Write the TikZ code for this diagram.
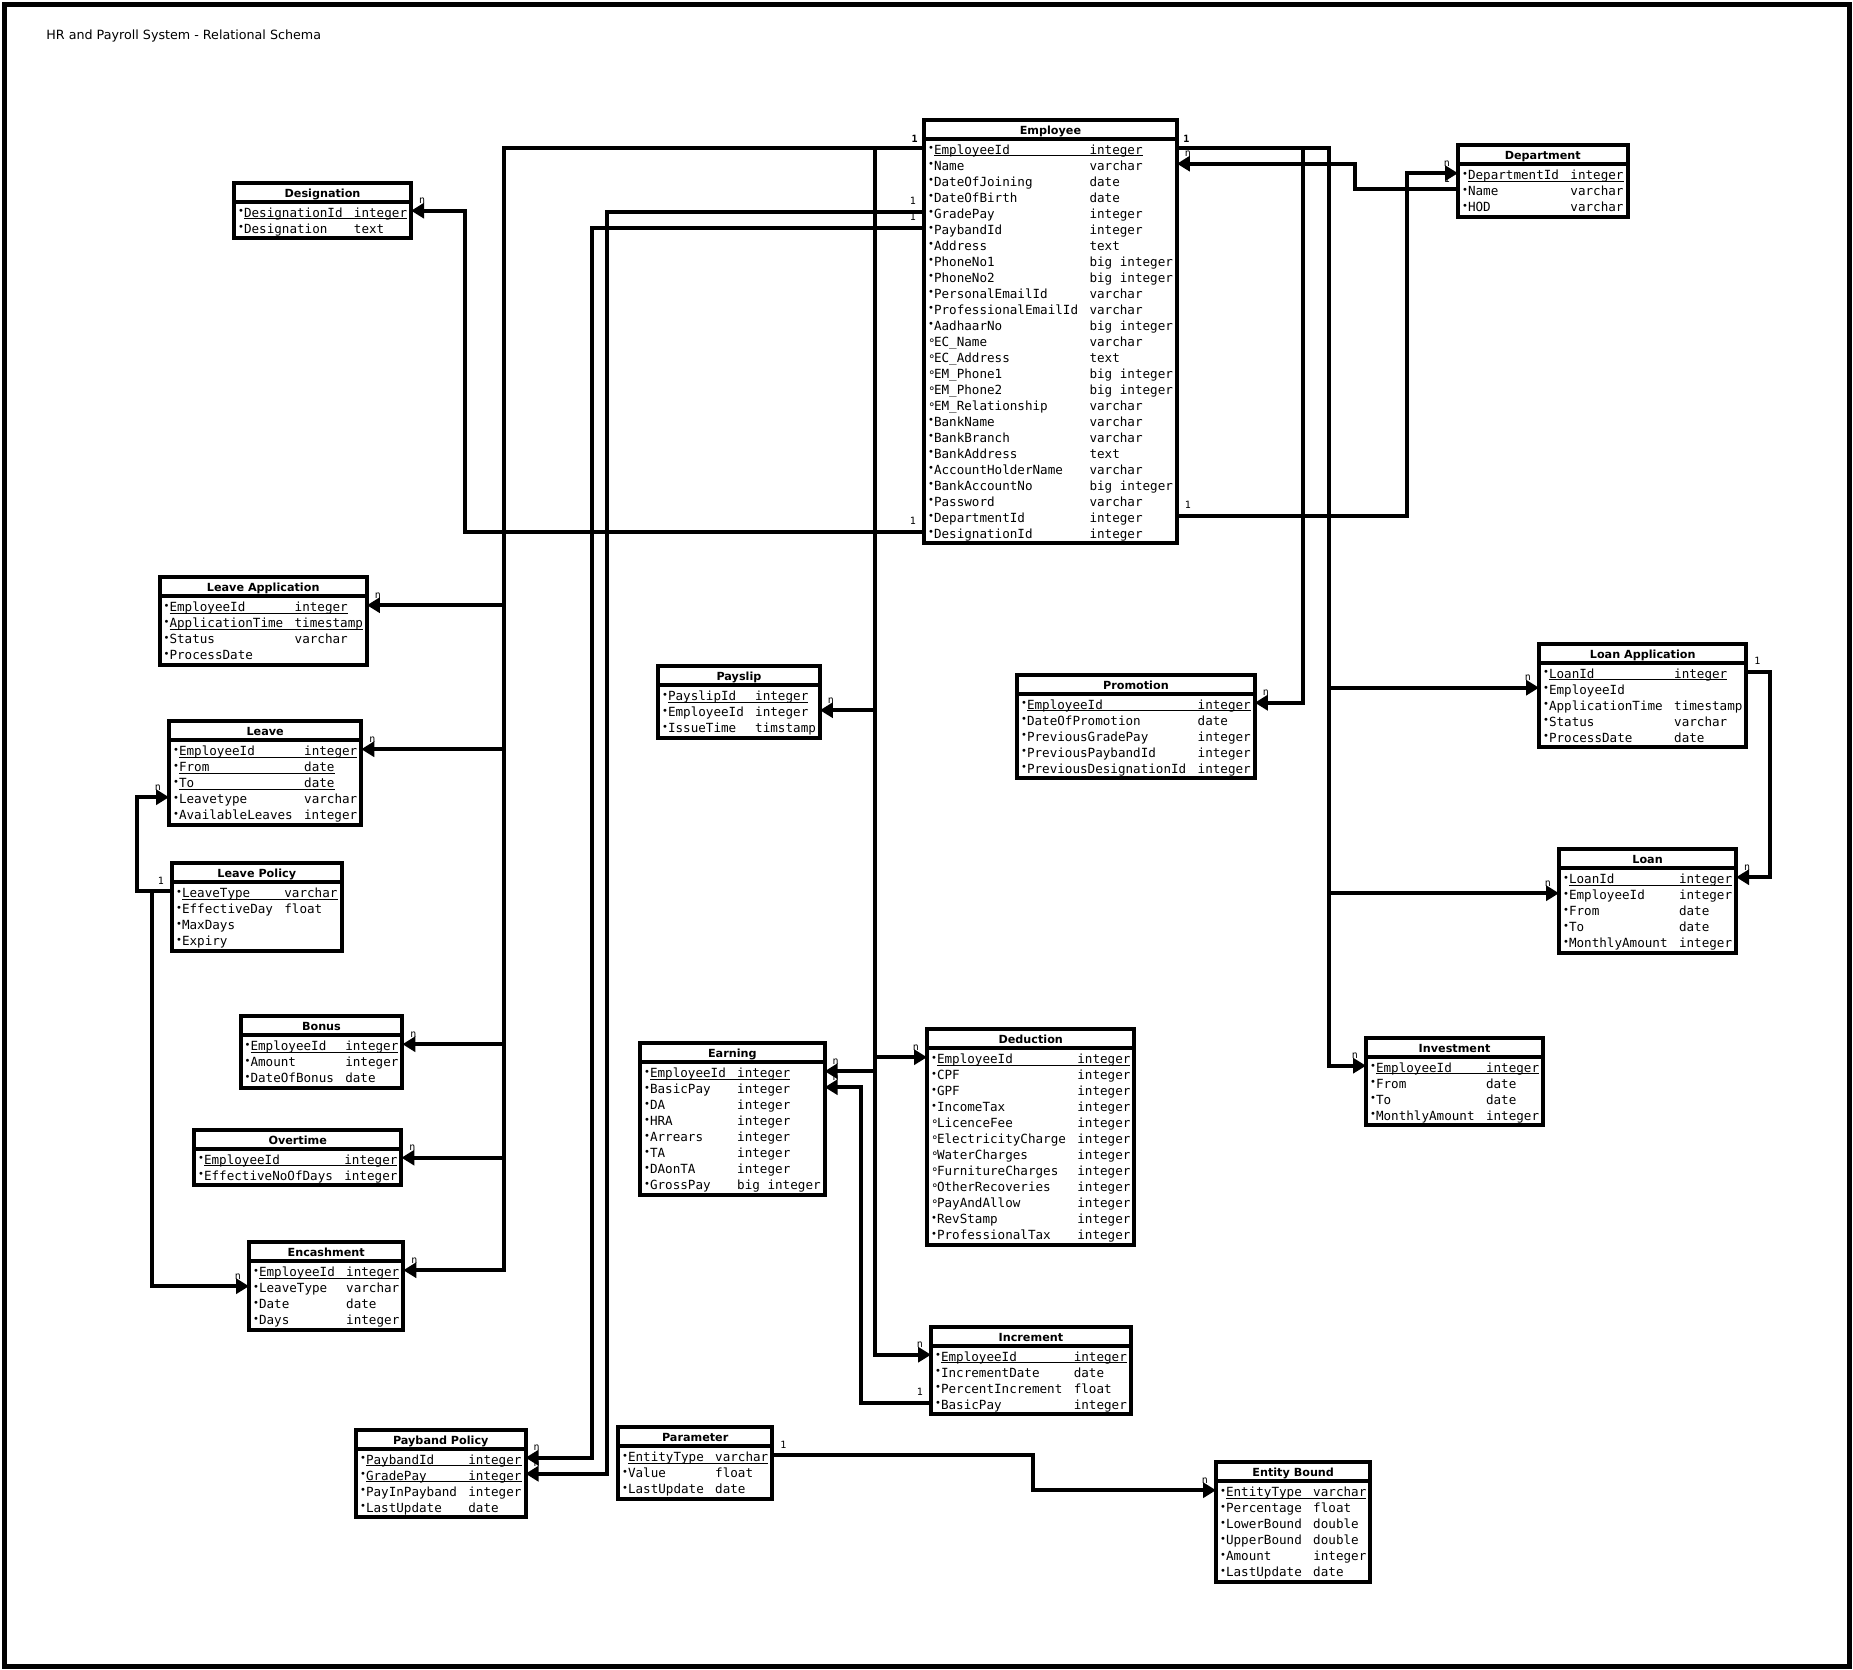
\documentclass[tikz,border=0pt]{standalone}
\usepackage{fontspec}
\setmainfont{DejaVu Sans}
\newfontfamily\monofam{DejaVu Sans Mono}
\usetikzlibrary{shapes.multipart,arrows.meta}

\newlength\namewd
\newlength\charwd
\newcommand\attrfont{\monofam\mdseries\fontsize{6.3}{4}\selectfont}
\newcommand\headfont{\bfseries\fontsize{5.6}{7}\selectfont}
\newcommand\cardfont{\monofam\mdseries\fontsize{5}{6}\selectfont}
\newcommand\rstrut{\rule[-1.5pt]{0pt}{8pt}}
\newcommand\fillb{\makebox[3pt][l]{\raisebox{1.3pt}{\rmfamily\mdseries\fontsize{5}{5}\selectfont •}}}
\newcommand\openb{\makebox[3pt][l]{\raisebox{0.9pt}{\rmfamily\mdseries\fontsize{6}{6}\selectfont ∘}}}
% attributs : nom, type
\newcommand\attr[2]{\fillb\makebox[\namewd][l]{#1}#2\rstrut}
\newcommand\oattr[2]{\openb\makebox[\namewd][l]{#1}#2\rstrut}
\newcommand\pkey[2]{\fillb\setbox0\hbox{\makebox[\namewd][l]{#1}#2}\rlap{\rule[-1pt]{\wd0}{0.45pt}}\box0\rstrut}
\newcommand\colw[1]{\settowidth\charwd{0}\setlength\namewd{\dimexpr#1\charwd+1.5\charwd\relax}}
\newcommand\tbl[3]{\raisebox{1.2pt}{\smash{#1}}\rule{0pt}{7.5pt}\nodepart{two}\attrfont\colw{#2}\begin{tabular}{@{}l@{}}#3\end{tabular}}

\begin{document}
\begin{tikzpicture}[x=0.5pt,y=-0.5pt,
    entity/.style={rectangle split, rectangle split parts=2, rectangle split part align={center,left},
      draw, line width=2pt, inner xsep=2pt, inner ysep=0.1pt, outer sep=0pt,
      anchor=north west, font=\headfont, fill=white},
    atrow/.style={yshift={-6.1pt-8pt*#1}},
    fk/.style={line width=2pt, -{Triangle[length=6.5pt,width=7.5pt]}},
    card/.style={font=\cardfont, inner sep=0pt, yshift=2.5pt},
    cl/.style={card, anchor=south east, xshift=-3pt},
    cr/.style={card, anchor=south west, xshift=3pt}]
    \useasboundingbox (0,0) rectangle (1853,1670);

    % Cadre et titre
    \draw[line width=2.5pt] (4,4) rectangle (1849,1666);
    \node[anchor=west, inner sep=0pt, font=\fontsize{6.35}{8}\selectfont] (title) at (46,35.5) {HR and Payroll System - Relational Schema};

    % Tables
    \node[entity] (emp) at (924,119.5) {\tbl{Employee}{19}{\pkey{EmployeeId}{integer}\\ \attr{Name}{varchar}\\ \attr{DateOfJoining}{date}\\ \attr{DateOfBirth}{date}\\ \attr{GradePay}{integer}\\ \attr{PaybandId}{integer}\\ \attr{Address}{text}\\ \attr{PhoneNo1}{big integer}\\ \attr{PhoneNo2}{big integer}\\ \attr{PersonalEmailId}{varchar}\\ \attr{ProfessionalEmailId}{varchar}\\ \attr{AadhaarNo}{big integer}\\ \oattr{EC\_Name}{varchar}\\ \oattr{EC\_Address}{text}\\ \oattr{EM\_Phone1}{big integer}\\ \oattr{EM\_Phone2}{big integer}\\ \oattr{EM\_Relationship}{varchar}\\ \attr{BankName}{varchar}\\ \attr{BankBranch}{varchar}\\ \attr{BankAddress}{text}\\ \attr{AccountHolderName}{varchar}\\ \attr{BankAccountNo}{big integer}\\ \attr{Password}{varchar}\\ \attr{DepartmentId}{integer}\\ \attr{DesignationId}{integer}}};
    \node[entity] (desg) at (234,182.5) {\tbl{Designation}{13}{\pkey{DesignationId}{integer}\\ \attr{Designation}{text}}};
    \node[entity] (dept) at (1458,145) {\tbl{Department}{12}{\pkey{DepartmentId}{integer}\\ \attr{Name}{varchar}\\ \attr{HOD}{varchar}}};
    \node[entity] (lapp) at (159.5,577) {\tbl{Leave Application}{15}{\pkey{EmployeeId}{integer}\\ \pkey{ApplicationTime}{timestamp}\\ \attr{Status}{varchar}\\ \attr{ProcessDate}{}}};
    \node[entity] (leave) at (169,721) {\tbl{Leave}{15}{\pkey{EmployeeId}{integer}\\ \pkey{From}{date}\\ \pkey{To}{date}\\ \attr{Leavetype}{varchar}\\ \attr{AvailableLeaves}{integer}}};
    \node[entity] (lpol) at (172,863) {\tbl{Leave Policy}{12}{\pkey{LeaveType}{varchar}\\ \attr{EffectiveDay}{float}\\ \attr{MaxDays}{}\\ \attr{Expiry}{}}};
    \node[entity] (bonus) at (240.5,1016) {\tbl{Bonus}{11}{\pkey{EmployeeId}{integer}\\ \attr{Amount}{integer}\\ \attr{DateOfBonus}{date}}};
    \node[entity] (ovt) at (194,1129.5) {\tbl{Overtime}{17}{\pkey{EmployeeId}{integer}\\ \attr{EffectiveNoOfDays}{integer}}};
    \node[entity] (encash) at (249,1242) {\tbl{Encashment}{10}{\pkey{EmployeeId}{integer}\\ \attr{LeaveType}{varchar}\\ \attr{Date}{date}\\ \attr{Days}{integer}}};
    \node[entity] (slip) at (658,666) {\tbl{Payslip}{10}{\pkey{PayslipId}{integer}\\ \attr{EmployeeId}{integer}\\ \attr{IssueTime}{timstamp}}};
    \node[entity] (promo) at (1017,674.5) {\tbl{Promotion}{21}{\pkey{EmployeeId}{integer}\\ \attr{DateOfPromotion}{date}\\ \attr{PreviousGradePay}{integer}\\ \attr{PreviousPaybandId}{integer}\\ \attr{PreviousDesignationId}{integer}}};
    \node[entity] (lnapp) at (1539,643.5) {\tbl{Loan Application}{15}{\pkey{LoanId}{integer}\\ \attr{EmployeeId}{}\\ \attr{ApplicationTime}{timestamp}\\ \attr{Status}{varchar}\\ \attr{ProcessDate}{date}}};
    \node[entity] (loan) at (1559,849) {\tbl{Loan}{13}{\pkey{LoanId}{integer}\\ \attr{EmployeeId}{integer}\\ \attr{From}{date}\\ \attr{To}{date}\\ \attr{MonthlyAmount}{integer}}};
    \node[entity] (invest) at (1366,1037.5) {\tbl{Investment}{13}{\pkey{EmployeeId}{integer}\\ \attr{From}{date}\\ \attr{To}{date}\\ \attr{MonthlyAmount}{integer}}};
    \node[entity] (earn) at (640,1043) {\tbl{Earning}{10}{\pkey{EmployeeId}{integer}\\ \attr{BasicPay}{integer}\\ \attr{DA}{integer}\\ \attr{HRA}{integer}\\ \attr{Arrears}{integer}\\ \attr{TA}{integer}\\ \attr{DAonTA}{integer}\\ \attr{GrossPay}{big integer}}};
    \node[entity] (deduct) at (927,1029) {\tbl{Deduction}{17}{\pkey{EmployeeId}{integer}\\ \attr{CPF}{integer}\\ \attr{GPF}{integer}\\ \attr{IncomeTax}{integer}\\ \oattr{LicenceFee}{integer}\\ \oattr{ElectricityCharge}{integer}\\ \oattr{WaterCharges}{integer}\\ \oattr{FurnitureCharges}{integer}\\ \oattr{OtherRecoveries}{integer}\\ \oattr{PayAndAllow}{integer}\\ \attr{RevStamp}{integer}\\ \attr{ProfessionalTax}{integer}}};
    \node[entity] (incr) at (931,1326.5) {\tbl{Increment}{16}{\pkey{EmployeeId}{integer}\\ \attr{IncrementDate}{date}\\ \attr{PercentIncrement}{float}\\ \attr{BasicPay}{integer}}};
    \node[entity] (pband) at (356,1429.5) {\tbl{Payband Policy}{12}{\pkey{PaybandId}{integer}\\ \pkey{GradePay}{integer}\\ \attr{PayInPayband}{integer}\\ \attr{LastUpdate}{date}}};
    \node[entity] (param) at (618,1427) {\tbl{Parameter}{10}{\pkey{EntityType}{varchar}\\ \attr{Value}{float}\\ \attr{LastUpdate}{date}}};
    \node[entity] (ebound) at (1216,1462) {\tbl{Entity Bound}{10}{\pkey{EntityType}{varchar}\\ \attr{Percentage}{float}\\ \attr{LowerBound}{double}\\ \attr{UpperBound}{double}\\ \attr{Amount}{integer}\\ \attr{LastUpdate}{date}}};

    % Points d'attache des lignes
    \foreach \tb/\nr in {emp/25,desg/2,dept/3,lapp/4,leave/5,lpol/4,bonus/3,ovt/2,encash/4,slip/3,promo/5,lnapp/5,loan/5,invest/4,earn/8,deduct/12,incr/4,pband/4,param/3,ebound/6}
      \foreach \k in {1,...,\nr} {
        \coordinate (\tb-\k-w) at ([atrow=\k]\tb.north west);
        \coordinate (\tb-\k-e) at ([atrow=\k]\tb.north east);
      }

    % Colonnes des liaisons
    \coordinate (busL) at (504,0);
    \coordinate (busM) at (875,0);
    \coordinate (busI) at (861,0);
    \coordinate (busD) at (465,0);
    \coordinate (busG) at (607,0);
    \coordinate (busP) at (592,0);
    \coordinate (busR1) at (1303,0);
    \coordinate (busR2) at (1329,0);
    \coordinate (busDN) at (1355,0);
    \coordinate (busDI) at (1407,0);
    \coordinate (busLA) at (1770,0);
    \coordinate (busPE) at (1033,0);
    \coordinate (busLP1) at (152,0);
    \coordinate (busLP2) at (137,0);

    % Employee vers les tables de gauche
    \node[cl, font=\cardfont\bfseries] at (emp-1-w) {1};
    \foreach \tb in {lapp,leave,bonus,ovt,encash}
      \draw[fk] (emp-1-w) -| (busL |- \tb-1-e) -- (\tb-1-e) node[cr] {n};
    \draw[fk] (emp-1-w) -| (busM |- slip-2-e) -- (slip-2-e) node[cr] {n};
    \draw[fk] (emp-1-w) -| (busM |- earn-1-e) -- (earn-1-e) node[cr] {n};
    \draw[fk] (emp-1-w) -| (busM |- deduct-1-w) -- (deduct-1-w) node[cl] {n};
    \draw[fk] (emp-1-w) -| (busM |- incr-1-w) -- (incr-1-w) node[cl] {n};
    \draw[fk] (incr-4-w) node[cl] {1} -| (busI |- earn-2-e) -- (earn-2-e) node[cr] {n};
    \draw[fk] (emp-25-w) node[cl] {1} -| (busD |- desg-1-e) -- (desg-1-e) node[cr] {n};
    \draw[fk] (emp-5-w) node[cl] {1} -| (busG |- pband-2-e) -- (pband-2-e) node[cr] {n};
    \draw[fk] (emp-6-w) node[cl] {1} -| (busP |- pband-1-e) -- (pband-1-e) node[cr] {n};

    % Employee vers les tables de droite
    \node[cr, font=\cardfont\bfseries] at (emp-1-e) {1};
    \draw[fk] (emp-1-e) -| (busR1 |- promo-1-e) -- (promo-1-e) node[cr] {n};
    \draw[fk] (emp-1-e) -| (busR2 |- lnapp-2-w) -- (lnapp-2-w) node[cl] {n};
    \draw[fk] (emp-1-e) -| (busR2 |- loan-2-w) -- (loan-2-w) node[cl] {n};
    \draw[fk] (emp-1-e) -| (busR2 |- invest-1-w) -- (invest-1-w) node[cl] {n};
    \draw[fk] (dept-2-w) node[cl] {1} -| (busDN |- emp-2-e) -- (emp-2-e) node[cr] {n};
    \draw[fk] (emp-24-e) node[cr] {1} -| (busDI |- dept-1-w) -- (dept-1-w) node[cl] {n};
    \draw[fk] (lnapp-1-e) node[cr] {1} -| (busLA |- loan-1-e) -- (loan-1-e) node[cr] {n};

    % Autres liaisons
    \draw[fk] (param-1-e) node[cr] {1} -| (busPE |- ebound-1-w) -- (ebound-1-w) node[cl] {n};
    \draw[fk] (lpol-1-w) node[cl] {1} -| (busLP2 |- leave-4-w) -- (leave-4-w) node[cl] {n};
    \draw[fk] (lpol-1-w) -| (busLP1 |- encash-2-w) -- (encash-2-w) node[cl] {n};
\end{tikzpicture}
\end{document}
